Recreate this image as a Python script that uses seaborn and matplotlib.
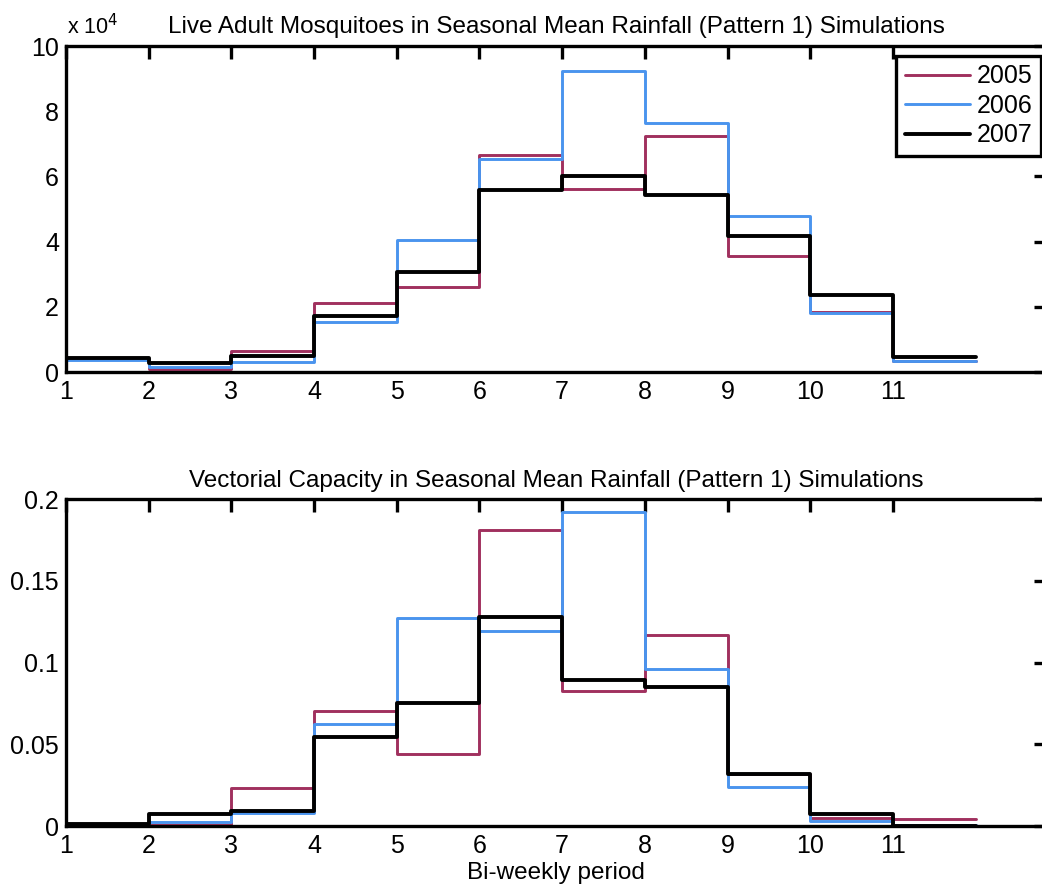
import numpy as np
import pandas as pd
import matplotlib
matplotlib.use("Agg")
import matplotlib.pyplot as plt
import seaborn as sns

# Bi-weekly periods (left edge of each step) and the three simulation years
periods = [1, 2, 3, 4, 5, 6, 7, 8, 9, 10, 11]
years = ["2005", "2006", "2007"]

# Live adult mosquitoes (x 10^4) per bi-weekly period
mosq_2005 = [0.40, 0.10, 0.65, 2.11, 2.60, 6.66, 5.61, 7.25, 3.56, 1.85, 0.35]
mosq_2006 = [0.38, 0.16, 0.32, 1.54, 4.05, 6.52, 9.23, 7.65, 4.79, 1.82, 0.33]
mosq_2007 = [0.42, 0.29, 0.49, 1.72, 3.08, 5.58, 6.02, 5.43, 4.17, 2.36, 0.47]

# Vectorial capacity per bi-weekly period
vc_2005 = [0.0010, 0.0005, 0.0235, 0.0704, 0.0439, 0.1810, 0.0826, 0.1167, 0.0320, 0.0051, 0.0045]
vc_2006 = [0.0010, 0.0025, 0.0082, 0.0623, 0.1275, 0.1194, 0.1918, 0.0960, 0.0239, 0.0030, 0.0005]
vc_2007 = [0.0010, 0.0071, 0.0092, 0.0547, 0.0751, 0.1280, 0.0892, 0.0853, 0.0316, 0.0075, 0.0003]

xticks = [1, 2, 3, 4, 5, 6, 7, 8, 9, 10, 11]
palette = {"2005": "#a0305e", "2006": "#4a94ee", "2007": "#000000"}
widths = {"2005": 2.1, "2006": 2.1, "2007": 2.8}


def stairs_frame(vals):
    """Step edges for one series; the final value is held to the closing edge."""
    xs = list(periods) + [periods[-1] + 1]
    ys = list(vals) + [vals[-1]]
    return pd.DataFrame({"period": xs, "value": ys})


sns.set_theme(style="white")
plt.rcParams["font.family"] = ["Liberation Sans", "DejaVu Sans"]
plt.rcParams["text.color"] = "black"
plt.rcParams["axes.labelcolor"] = "black"
plt.rcParams["axes.linewidth"] = 2.4

fig = plt.figure(figsize=(10.42, 8.90), dpi=100)
ax1 = fig.add_axes([0.0633, 0.582, 0.9405, 0.3663])
ax2 = fig.add_axes([0.0633, 0.0719, 0.9405, 0.3674])

panels = [
    (ax1, {"2005": mosq_2005, "2006": mosq_2006, "2007": mosq_2007}),
    (ax2, {"2005": vc_2005, "2006": vc_2006, "2007": vc_2007}),
]

for ax, series in panels:
    for year in years:
        sns.lineplot(data=stairs_frame(series[year]), x="period", y="value",
                     color=palette[year], drawstyle="steps-post",
                     linewidth=widths[year], estimator=None, ax=ax, label=year)
    ax.set_xlim(1, 12.85)
    ax.set_xticks(xticks)
    ax.set_xticklabels([str(t) for t in xticks])
    ax.tick_params(axis="both", which="major", direction="in", length=9, width=2.4,
                   top=True, right=True, labelsize=18, colors="black")
    ax.tick_params(axis="x", pad=6)
    ax.tick_params(axis="y", pad=5)
    for s in ax.spines.values():
        s.set_color("black")
        s.set_linewidth(2.4)
    ax.set_ylabel("")
    ax.set_xlabel("")

ax1.set_ylim(0, 10)
ax1.set_yticks([0, 2, 4, 6, 8, 10])
ax1.set_yticklabels(["0", "2", "4", "6", "8", "10"])
ax1.set_title("Live Adult Mosquitoes in Seasonal Mean Rainfall (Pattern 1) Simulations",
              fontsize=17.5, pad=9.5, color="black")
ax1.text(0.001, 1.02, r"x 10$^{4}$", transform=ax1.transAxes, fontsize=15.5,
         ha="left", va="bottom", color="black")

ax2.set_ylim(0, 0.2)
ax2.set_yticks([0, 0.05, 0.1, 0.15, 0.2])
ax2.set_yticklabels(["0", "0.05", "0.1", "0.15", "0.2"])
ax2.set_title("Vectorial Capacity in Seasonal Mean Rainfall (Pattern 1) Simulations",
              fontsize=17.5, pad=9, color="black")
ax2.set_xlabel("Bi-weekly period", fontsize=17.5, labelpad=2.5, color="black")
ax2.get_legend().remove()

leg = ax1.legend(loc="upper right", bbox_to_anchor=(1041 / 1042, 1 - 56 / 890),
                 bbox_transform=fig.transFigure, borderaxespad=0,
                 fontsize=18, frameon=True, fancybox=False, framealpha=1,
                 handlelength=2.6, borderpad=0.33, labelspacing=0.22,
                 handletextpad=0.3)
leg.get_frame().set_edgecolor("black")
leg.get_frame().set_linewidth(2.4)
for txt in leg.get_texts():
    txt.set_color("black")

fig.savefig("out.png", dpi=100)
